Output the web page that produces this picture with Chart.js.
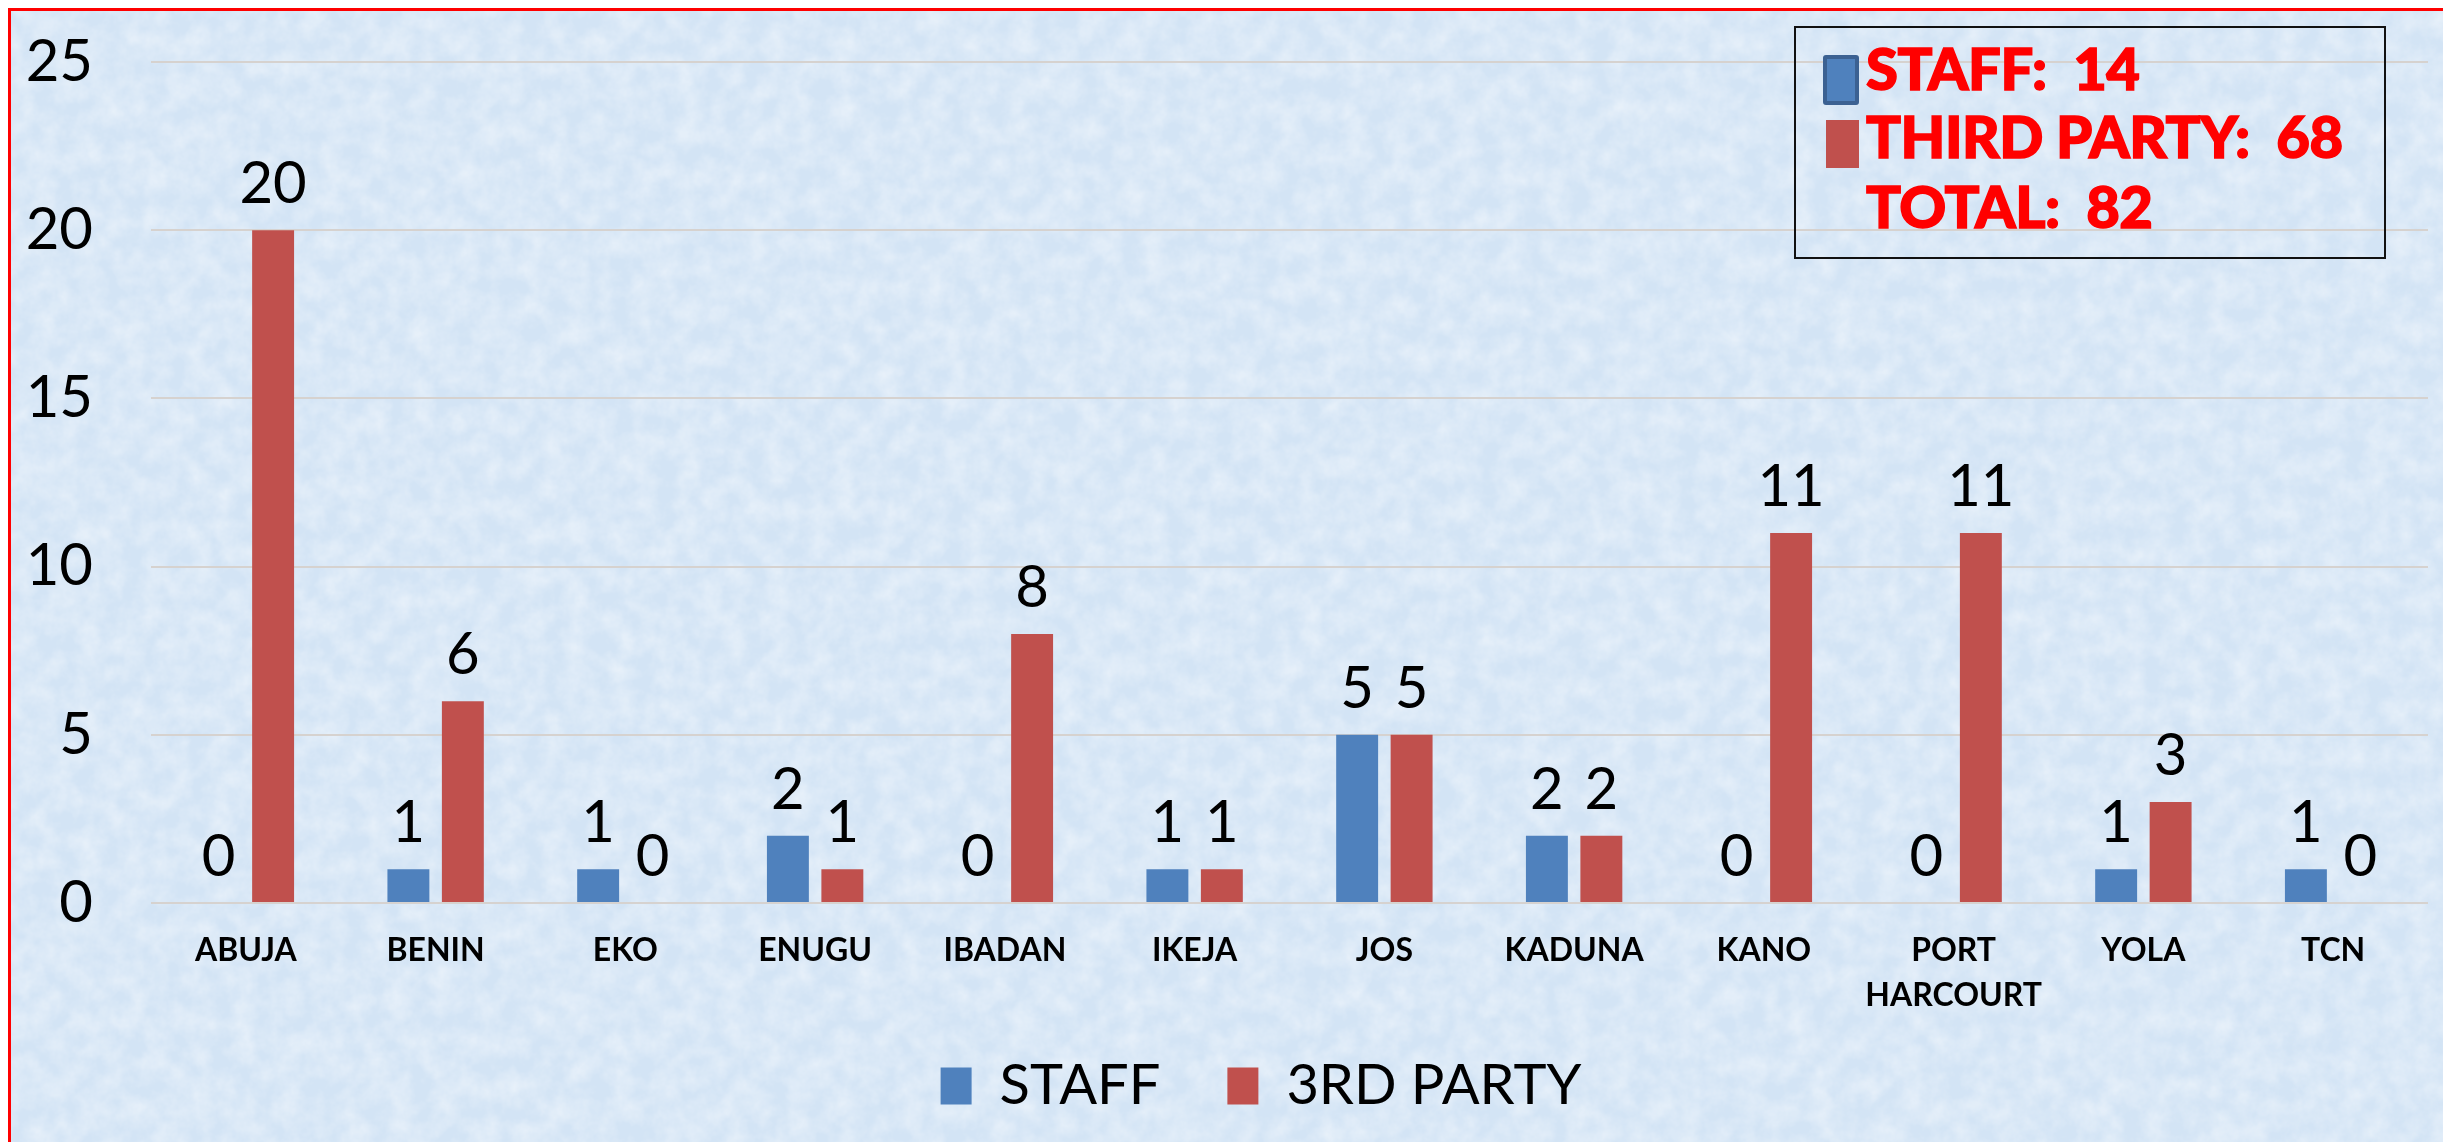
<!DOCTYPE html>
<html>
<head>
<meta charset="utf-8">
<script src="https://cdn.jsdelivr.net/npm/chart.js@4/dist/chart.umd.min.js"></script>
<style>
  html, body { margin: 0; padding: 0; background: #ffffff; width: 2443px; height: 1142px; overflow: hidden; }
  #frame { position: absolute; left: 8px; top: 8px; width: 2440px; height: 1140px;
    border-top: 3px solid #ff0000; border-left: 3px solid #ff0000;
    background-color: #d3e4f5;
    background-repeat: no-repeat;
    background-image: url("data:image/svg+xml;utf8,<svg xmlns='http://www.w3.org/2000/svg' width='2440' height='1140'><filter id='n'><feTurbulence type='fractalNoise' baseFrequency='0.045' numOctaves='4' seed='7'/><feColorMatrix values='0 0 0 0 1  0 0 0 0 1  0 0 0 0 1  0 0 0 0.7 -0.2'/></filter><rect width='100%' height='100%' filter='url(%23n)'/></svg>");
  }
  #chart { position: absolute; left: 0; top: 0; }
  #note { position: absolute; left: 1794px; top: 26px; width: 588px; height: 229px;
    border: 2px solid #111111; font-family: Lato, sans-serif; font-weight: 900; color: #ff0000; }
  .line { position: absolute; left: 70px; font-size: 58px; line-height: 58px; white-space: nowrap;
    letter-spacing: -0.5px; -webkit-text-stroke: 1.5px #ff0000; }
  .sq { position: absolute; }
</style>
</head>
<body>
<div id="frame"></div>
<canvas id="chart" width="2443" height="1142"></canvas>
<div id="note">
  <div class="sq" style="left:27px;top:27px;width:28px;height:42px;background:#4f81bd;border:4px solid #3b6192;border-radius:3px;"></div>
  <div class="sq" style="left:30px;top:92px;width:33px;height:48px;background:#c0504d;"></div>
  <div class="line" style="top:11px;">STAFF:&nbsp; 14</div>
  <div class="line" style="top:79px;">THIRD PARTY:&nbsp; 68</div>
  <div class="line" style="top:149px;">TOTAL:&nbsp; 82</div>
</div>
<script>
const categories = ['ABUJA', 'BENIN', 'EKO', 'ENUGU', 'IBADAN', 'IKEJA', 'JOS', 'KADUNA', 'KANO', ['PORT', 'HARCOURT'], 'YOLA', 'TCN'];
const staffValues = [0, 1, 1, 2, 0, 1, 5, 2, 0, 0, 1, 1];
const thirdPartyValues = [20, 6, 0, 1, 8, 1, 5, 2, 11, 11, 3, 0];
const seriesNames = ['STAFF', '3RD PARTY'];
const yMin = 0, yMax = 25, yStep = 5;

const valueLabels = {
  id: 'valueLabels',
  afterDatasetsDraw(chart) {
    const ctx = chart.ctx;
    ctx.save();
    ctx.font = '58px Lato';
    ctx.fillStyle = '#000000';
    ctx.textAlign = 'center';
    ctx.textBaseline = 'alphabetic';
    chart.data.datasets.forEach((ds, di) => {
      const meta = chart.getDatasetMeta(di);
      meta.data.forEach((el, i) => {
        ctx.fillText(String(ds.data[i]), el.x, el.y - 27);
      });
    });
    ctx.restore();
  }
};

// nudge the bottom legend to the place it occupies in the original
const legendNudge = {
  id: 'legendNudge',
  afterLayout(chart) {
    const lg = chart.legend;
    if (!lg) return;
    const dx = 47, dy = -22;
    lg.left += dx; lg.right += dx; lg.top += dy; lg.bottom += dy;
  }
};

new Chart(document.getElementById('chart'), {
  type: 'bar',
  data: {
    labels: categories,
    datasets: [
      { label: seriesNames[0], data: staffValues, backgroundColor: '#4f81bd', categoryPercentage: 0.574, barPercentage: 0.77 },
      { label: seriesNames[1], data: thirdPartyValues, backgroundColor: '#c0504d', categoryPercentage: 0.574, barPercentage: 0.77 }
    ]
  },
  options: {
    responsive: false,
    maintainAspectRatio: false,
    animation: false,
    layout: { padding: { left: 0, right: 15, top: 62, bottom: 0 } },
    plugins: {
      tooltip: { enabled: false },
      legend: {
        position: 'bottom',
        maxHeight: 129,
        labels: {
          boxWidth: 31, boxHeight: 37, padding: 67, color: '#000000',
          font: { family: 'Lato', size: 56 }
        }
      }
    },
    scales: {
      x: {
        grid: { display: false, drawTicks: false },
        border: { display: false },
        ticks: { color: '#000000', padding: 25, maxRotation: 0, autoSkip: false,
          font: { family: 'Lato', size: 32, weight: 'bold', lineHeight: 1.42 } },
        afterFit(scale) { scale.height = 110; }
      },
      y: {
        min: yMin, max: yMax,
        grid: { color: '#d6d2cf', lineWidth: 2, drawTicks: true, tickLength: 55, tickColor: 'rgba(0,0,0,0)' },
        border: { display: false },
        ticks: { stepSize: yStep, color: '#000000', padding: 3, font: { family: 'Lato', size: 58 } },
        afterFit(scale) { scale.width = 151; }
      }
    }
  },
  plugins: [valueLabels, legendNudge]
});
</script>
</body>
</html>
